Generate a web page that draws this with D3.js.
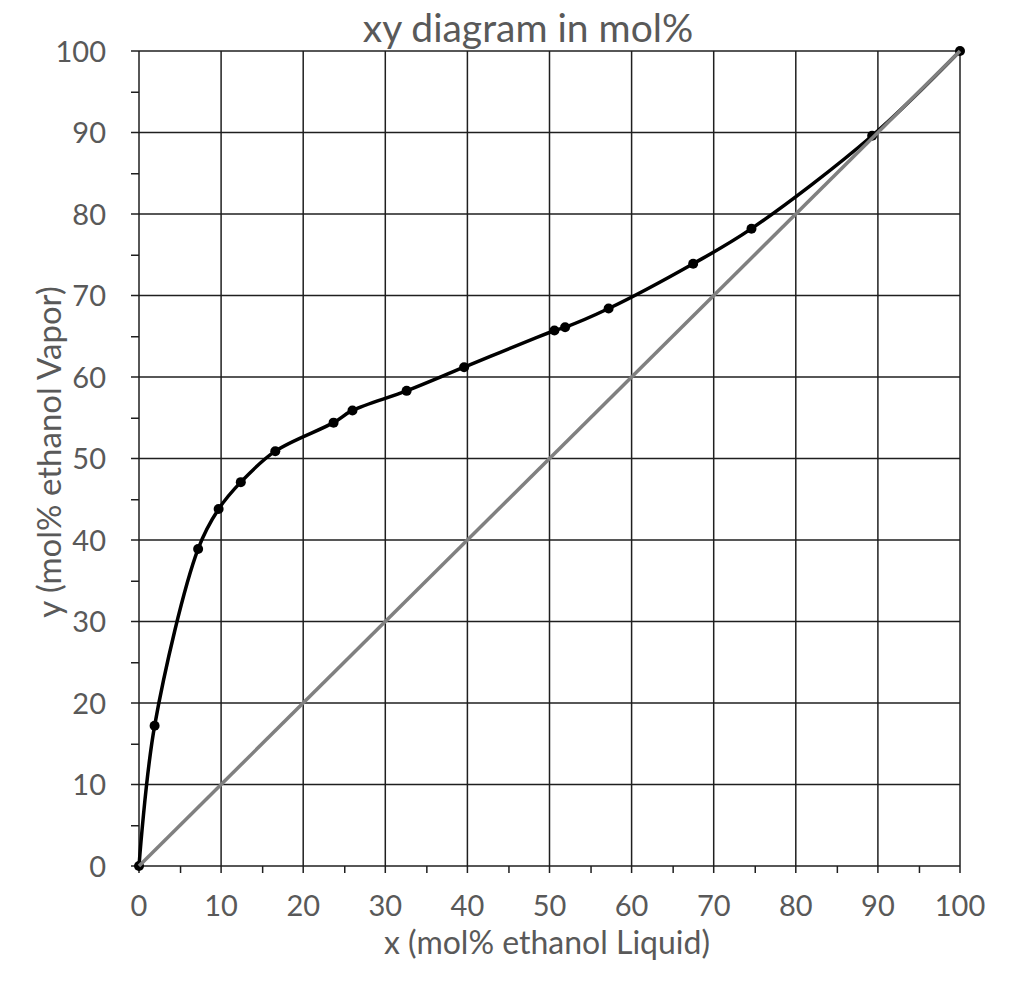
<!DOCTYPE html>
<html>
<head>
<meta charset="utf-8">
<script src="https://cdn.jsdelivr.net/npm/d3@7"></script>
<style>
  body { margin: 0; background: #fff; }
  text { font-family: Lato, "Noto Sans", sans-serif; fill: #595959; }
</style>
</head>
<body>
<main></main>
<script>
// liquid / vapor mol% ethanol
var xLiquid = [0, 1.9, 7.2, 9.7, 12.4, 16.6, 23.7, 26.0, 32.6, 39.6, 50.6, 51.9, 57.2, 67.5, 74.6, 89.3, 100]
var yVapor  = [0, 17.2, 38.9, 43.8, 47.1, 50.9, 54.4, 55.9, 58.3, 61.2, 65.7, 66.1, 68.4, 73.9, 78.2, 89.6, 100]
var diagX = [0, 100]
var diagY = [0, 100]
var majorTicks = [0, 10, 20, 30, 40, 50, 60, 70, 80, 90, 100]
var minorTicks = [5, 15, 25, 35, 45, 55, 65, 75, 85, 95]

var W = 1024, H = 999
var svg = d3.select('main').append('svg')
    .attr('width', W)
    .attr('height', H)

var x = d3.scaleLinear().domain([0, 100]).range([139, 960])
var y = d3.scaleLinear().domain([0, 100]).range([866, 51])

// grid
var grid = svg.append('g').attr('stroke', '#1f1f1f').attr('stroke-width', 1.5)
grid.selectAll('line.v').data(majorTicks).enter().append('line')
    .attr('x1', d => x(d)).attr('x2', d => x(d))
    .attr('y1', y(100)).attr('y2', y(0) + 7)
grid.selectAll('line.h').data(majorTicks).enter().append('line')
    .attr('y1', d => y(d)).attr('y2', d => y(d))
    .attr('x1', x(0) - 8).attr('x2', x(100))

// minor ticks through d3 axes
var xMinor = d3.axisBottom(x).tickValues(minorTicks).tickSize(7).tickFormat('')
svg.append('g').attr('transform', 'translate(0,' + y(0) + ')').call(xMinor)
    .call(g => g.select('.domain').remove())
    .selectAll('line').attr('stroke', '#1f1f1f').attr('stroke-width', 1.5)
var yMinor = d3.axisLeft(y).tickValues(minorTicks).tickSize(8).tickFormat('')
svg.append('g').attr('transform', 'translate(' + x(0) + ',0)').call(yMinor)
    .call(g => g.select('.domain').remove())
    .selectAll('line').attr('stroke', '#1f1f1f').attr('stroke-width', 1.5)

// tick labels
svg.append('g').selectAll('text').data(majorTicks).enter().append('text')
    .attr('x', d => x(d))
    .attr('y', 916)
    .attr('text-anchor', 'middle')
    .style('font-size', '29px')
    .text(d => d)
svg.append('g').selectAll('text').data(majorTicks).enter().append('text')
    .attr('x', 106)
    .attr('y', d => y(d) + 10.5)
    .attr('text-anchor', 'end')
    .style('font-size', '29px')
    .text(d => d)

// titles
svg.append('text')
    .attr('x', 528).attr('y', 42)
    .attr('text-anchor', 'middle')
    .style('font-size', '39px')
    .text('xy diagram in mol%')
svg.append('text')
    .attr('x', 547).attr('y', 954)
    .attr('text-anchor', 'middle')
    .style('font-size', '32px')
    .text('x (mol% ethanol Liquid)')
svg.append('text')
    .attr('transform', 'translate(61,452) rotate(-90)')
    .attr('text-anchor', 'middle')
    .style('font-size', '33px')
    .text('y (mol% ethanol Vapor)')

// equilibrium curve
var pts = xLiquid.map((d, i) => [d, yVapor[i]])
var line = d3.line()
    .x(d => x(d[0]))
    .y(d => y(d[1]))
    .curve(d3.curveCatmullRom.alpha(0.5))
svg.append('path')
    .datum(pts)
    .attr('d', line)
    .attr('fill', 'none')
    .attr('stroke', '#000')
    .attr('stroke-width', 3.5)
svg.append('g').selectAll('circle').data(pts).enter().append('circle')
    .attr('cx', d => x(d[0]))
    .attr('cy', d => y(d[1]))
    .attr('r', 5)
    .attr('fill', '#000')

// y = x line
var diag = diagX.map((d, i) => [d, diagY[i]])
svg.append('path')
    .datum(diag)
    .attr('d', d3.line().x(d => x(d[0])).y(d => y(d[1])))
    .attr('stroke', '#808080')
    .attr('stroke-width', 3.5)
    .attr('fill', 'none')
</script>
</body>
</html>
